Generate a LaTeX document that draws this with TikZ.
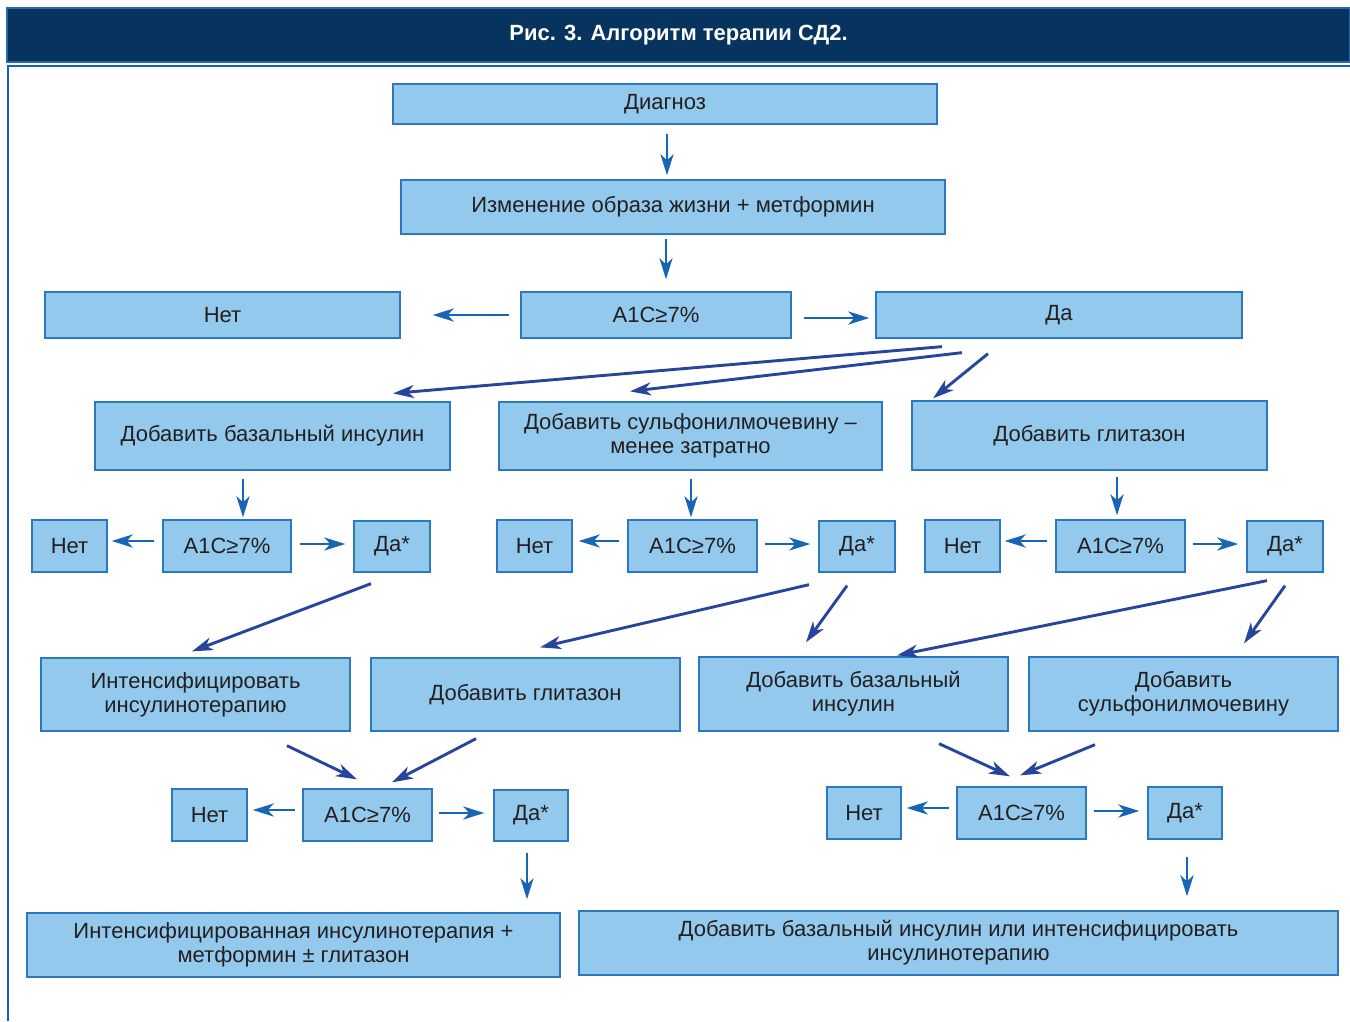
\documentclass[tikz,border=0pt]{standalone}
\usepackage{fontspec}
\setmainfont{Liberation Sans}
\usetikzlibrary{arrows.meta,calc}
\definecolor{navy}{HTML}{06345F}
\definecolor{navyedge}{HTML}{2A66B0}
\definecolor{frameblue}{HTML}{1A5FB4}
\definecolor{boxfill}{HTML}{93C9EC}
\definecolor{boxedge}{HTML}{2A78C0}
\definecolor{txt}{HTML}{231F20}
\definecolor{arrA}{HTML}{1766B3}
\definecolor{arrB}{HTML}{27459A}
\tikzset{
  box/.style={draw=boxedge, fill=boxfill, line width=1.3pt, inner sep=0pt,
    text=txt, align=center, font=\fontsize{22}{24}\selectfont},
  arrs/.style={draw=arrA, line width=2.9pt, -{Stealth[length=21pt,width=13pt,inset=6pt]}},
  arrd/.style={draw=arrB, line width=2.9pt, -{Stealth[length=21pt,width=13pt,inset=6pt]}},
}
\newcommand{\bx}[6]{\node[box, minimum width=#3pt, minimum height=#4pt] (#1) at (#2) {#5};}
\begin{document}
\begin{tikzpicture}[x=1pt,y=-1pt]
\useasboundingbox (0,0) rectangle (1350,1021);
% header
\node[draw=navyedge, fill=navy, line width=1.2pt, minimum width=1343pt, minimum height=54pt, inner sep=0pt,
  text=white, font=\fontsize{22}{24}\selectfont\bfseries] (title) at (678.5,35) {Рис. 3. Алгоритм терапии СД2.};
\coordinate (fr1) at (8,1021);
\coordinate (fr2) at (8,66);
\coordinate (fr3) at (1352,66);
\draw[frameblue, line width=1.8pt] (fr1) -- (fr2) -- (fr3);
% boxes
\bx{diag}{665,104}{544}{40}{Диагноз}{}
\bx{izm}{673,207}{544}{54}{Изменение образа жизни + метформин}{}
\bx{net0}{222.5,315}{355}{46}{Нет}{}
\bx{a0}{656,315}{270}{46}{A1C≥7\%}{}
\bx{da0}{1059,315}{366}{46}{Да}{}
\bx{bas1}{272.5,436}{355}{68}{Добавить базальный инсулин}{}
\bx{sulf1}{690.5,436}{383}{68}{Добавить сульфонилмочевину –\\менее затратно}{}
\bx{glit1}{1089.5,435.5}{355}{69}{Добавить глитазон}{}
\bx{net1}{69.5,546}{75}{52}{Нет}{}
\bx{a1}{227,546}{128}{52}{A1C≥7\%}{}
\bx{d1}{392,546.5}{76}{51}{Да*}{}
\bx{net2}{534.5,546}{75}{52}{Нет}{}
\bx{a2}{692.5,546}{129}{52}{A1C≥7\%}{}
\bx{d2}{857,546.5}{76}{51}{Да*}{}
\bx{net3}{962.5,546}{75}{52}{Нет}{}
\bx{a3}{1120.5,546}{129}{52}{A1C≥7\%}{}
\bx{d3}{1285,546.5}{76}{51}{Да*}{}
\bx{int4}{195.5,694.5}{309}{73}{Интенсифицировать\\инсулинотерапию}{}
\bx{glit4}{525.5,694.5}{309}{73}{Добавить глитазон}{}
\bx{bas4}{853.5,694}{309}{74}{Добавить базальный\\инсулин}{}
\bx{sulf4}{1183.5,694}{309}{74}{Добавить\\сульфонилмочевину}{}
\bx{net5}{209.5,815}{75}{52}{Нет}{}
\bx{a5}{367.5,815}{129}{52}{A1C≥7\%}{}
\bx{d5}{531,815.5}{74}{51}{Да*}{}
\bx{net6}{864,813}{74}{52}{Нет}{}
\bx{a6}{1021.5,813}{129}{52}{A1C≥7\%}{}
\bx{d6}{1185,813}{74}{52}{Да*}{}
\bx{fin1}{293.5,945}{533}{64}{Интенсифицированная инсулинотерапия +\\метформин ± глитазон}{}
\bx{fin2}{958.5,943}{759}{64}{Добавить базальный инсулин или интенсифицировать\\инсулинотерапию}{}
% arrows
\draw[arrs] ($(diag.south)+(2,9)$) -- ($(izm.north)+(-6,-4)$);
\draw[arrs] ($(izm.south)+(-7,4)$) -- ($(a0.north)+(10,-12)$);
\draw[arrs] ($(a0.west)+(-11,0)$) -- ($(net0.east)+(32,0)$);
\draw[arrs] ($(a0.east)+(12,3)$) -- ($(da0.west)+(-6,3)$);
\draw[arrd] ($(da0.south)+(-117,8)$) -- ($(bas1.north)+(120.5,-8)$);
\draw[arrd] ($(da0.south)+(-97,14)$) -- ($(sulf1.north)+(-60.5,-10)$);
\draw[arrd] ($(da0.south)+(-71,15)$) -- ($(glit1.north)+(-156.5,-2)$);
\draw[arrs] ($(bas1.south)+(-29.5,8)$) -- ($(a1.north)+(16,-2)$);
\draw[arrs] ($(a1.west)+(-8,-5)$) -- ($(net1.east)+(4,-5)$);
\draw[arrs] ($(a1.east)+(8,-2)$) -- ($(d1.west)+(-8,-2.5)$);
\draw[arrs] ($(sulf1.south)+(0.5,8)$) -- ($(a2.north)+(-1.5,-2)$);
\draw[arrs] ($(a2.west)+(-8,-5)$) -- ($(net2.east)+(6,-5)$);
\draw[arrs] ($(a2.east)+(7,-2)$) -- ($(d2.west)+(-8,-2.5)$);
\draw[arrs] ($(glit1.south)+(27.5,6)$) -- ($(a3.north)+(-3.5,-4)$);
\draw[arrs] ($(a3.west)+(-8,-5)$) -- ($(net3.east)+(4,-5)$);
\draw[arrs] ($(a3.east)+(7,-2)$) -- ($(d3.west)+(-8,-2.5)$);
\draw[arrd] ($(d1.south)+(-21,11)$) -- ($(int4.north)+(-3.5,-6)$);
\draw[arrd] ($(d2.south)+(-48,12)$) -- ($(glit4.north)+(14.5,-10)$);
\draw[arrd] ($(d2.south)+(-10,13)$) -- ($(bas4.north)+(-47.5,-14)$);
\draw[arrd] ($(d3.south)+(-18,8)$) -- ($(bas4.north)+(43.5,-1)$);
\draw[arrd] ($(d3.south)+(0,13)$) -- ($(sulf4.north)+(60.5,-13)$);
\draw[arrd] ($(int4.south)+(91.5,14)$) -- ($(a5.north)+(-10.5,-9)$);
\draw[arrd] ($(glit4.south)+(-49.5,7)$) -- ($(a5.north)+(24.5,-6)$);
\draw[arrd] ($(bas4.south)+(85.5,12)$) -- ($(a6.north)+(-11.5,-10)$);
\draw[arrd] ($(sulf4.south)+(-88.5,13)$) -- ($(a6.north)+(-1.5,-11)$);
\draw[arrs] ($(a5.west)+(-7,-5)$) -- ($(net5.east)+(5,-5)$);
\draw[arrs] ($(a5.east)+(6,-2)$) -- ($(d5.west)+(-9,-2.5)$);
\draw[arrs] ($(a6.west)+(-7,-5)$) -- ($(net6.east)+(5,-5)$);
\draw[arrs] ($(a6.east)+(7,-2)$) -- ($(d6.west)+(-8,-2)$);
\draw[arrs] ($(d5.south)+(-4,11)$) -- ($(fin1.north)+(233.5,-13)$);
\draw[arrs] ($(d6.south)+(2,17)$) -- ($(fin2.north)+(228.5,-14)$);
\end{tikzpicture}
\end{document}
